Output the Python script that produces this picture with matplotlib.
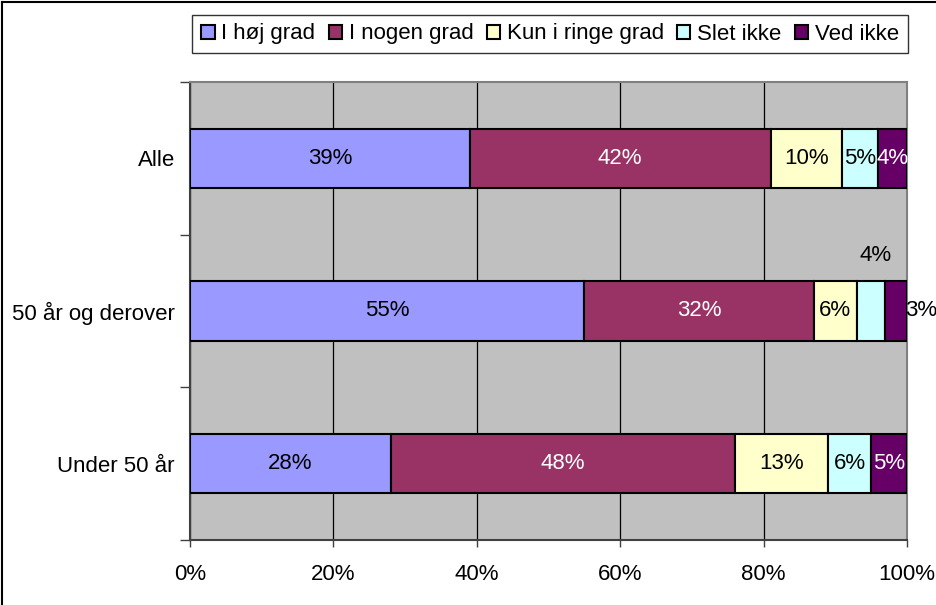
import numpy as np
import matplotlib
matplotlib.use("Agg")
import matplotlib.pyplot as plt
from matplotlib.lines import Line2D
from matplotlib.ticker import FixedLocator, PercentFormatter

# data
groups = ["Under 50 år", "50 år og derover", "Alle"]
series = ["I høj grad", "I nogen grad", "Kun i ringe grad", "Slet ikke", "Ved ikke"]
values = {
    "I høj grad":       [28, 55, 39],
    "I nogen grad":     [48, 32, 42],
    "Kun i ringe grad": [13, 6, 10],
    "Slet ikke":        [6, 4, 5],
    "Ved ikke":         [5, 3, 4],
}
colors = ["#9999FF", "#993366", "#FFFFCC", "#CCFFFF", "#660066"]
text_colors = ["black", "white", "black", "black", "white"]

plt.rcParams["font.family"] = ["Liberation Sans", "DejaVu Sans"]
plt.rcParams["font.size"] = 16

fig = plt.figure(figsize=(9.36, 6.05), dpi=100)
ax = fig.add_axes([190/936, 1-540/605, 717/936, 458/605])
ax.set_facecolor("#C0C0C0")

y = np.arange(len(groups))
left = np.zeros(len(groups))
bars = []
for s, c in zip(series, colors):
    v = np.array(values[s], dtype=float)
    ax.barh(y, v, left=left, height=0.39, color=c, edgecolor="black",
            linewidth=1.5, label=s, zorder=3)
    bars.append((s, v, left.copy()))
    left = left + v

# labels
for (s, v, l), tc in zip(bars, text_colors):
    for i in range(len(groups)):
        cx = l[i] + v[i] / 2
        txt = f"{v[i]:.0f}%"
        if groups[i] == "50 år og derover" and s == "Slet ikke":
            ax.annotate(txt, (cx, y[i]), xytext=(3, 40), textcoords="offset points",
                        ha="center", va="center", color="black", zorder=5)
        elif groups[i] == "50 år og derover" and s == "Ved ikke":
            ax.annotate(txt, (100, y[i]), xytext=(10, 0), textcoords="offset points",
                        ha="center", va="center", color="black", zorder=5,
                        annotation_clip=False)
        else:
            ax.text(cx, y[i], txt, ha="center", va="center", color=tc, zorder=5)

ax.set_xlim(0, 100)
ax.set_ylim(-0.5, 2.5)
ax.xaxis.set_major_locator(FixedLocator([0, 20, 40, 60, 80, 100]))
ax.xaxis.set_major_formatter(PercentFormatter(decimals=0))
ax.grid(axis="x", color="black", linewidth=0.9, zorder=1)
ax.set_axisbelow(True)

ax.set_yticks(y)
ax.set_yticklabels(groups)
ax.set_yticks([-0.5, 0.5, 1.5, 2.5], minor=True)
ax.tick_params(axis="y", which="major", length=0, pad=11)
ax.tick_params(axis="y", which="minor", length=7, width=1, color="#404040")
ax.tick_params(axis="x", length=5, width=1, color="#404040", pad=12)

for side in ["top", "right"]:
    ax.spines[side].set_color("#808080")
    ax.spines[side].set_linewidth(1.5)
ax.spines["left"].set_color("#404040")
ax.spines["left"].set_linewidth(1.5)
ax.spines["bottom"].set_color("#404040")
ax.spines["bottom"].set_linewidth(1.5)

leg = fig.legend(loc="center", bbox_to_anchor=(550/936, 1-34/605), ncol=5,
                 frameon=True, fancybox=False, edgecolor="black",
                 handlelength=0.6, handleheight=0.6, handletextpad=0.3,
                 columnspacing=0.6, borderpad=0.4, borderaxespad=0,
                 fontsize=16)
leg.get_frame().set_linewidth(1.0)

# outer chart border
fig.add_artist(Line2D([2/936, 2/936], [0, 1-2/605], color="black", linewidth=1.5))
fig.add_artist(Line2D([2/936, 1], [1-2/605, 1-2/605], color="black", linewidth=1.5))

fig.savefig("out.png", dpi=100)
